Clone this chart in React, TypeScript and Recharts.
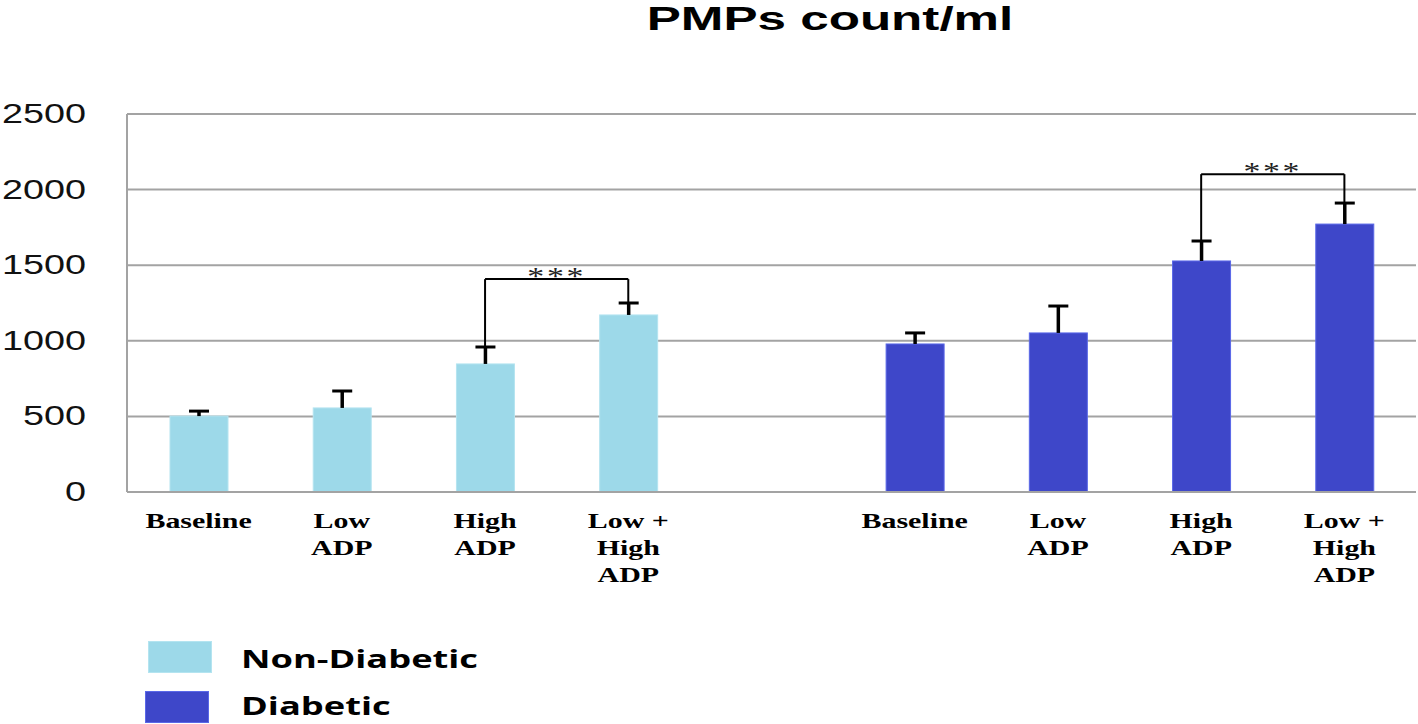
import { Bar, BarChart, CartesianGrid, Legend, ReferenceLine, XAxis, YAxis } from "recharts";

const categories = ["Baseline", "Low ADP", "High ADP", "Low + High ADP"];
const categoryLines: Record<string, string[]> = {
  "Baseline": ["Baseline"],
  "Low ADP": ["Low", "ADP"],
  "High ADP": ["High", "ADP"],
  "Low + High ADP": ["Low +", "High", "ADP"],
};
const nonDiabetic = [502, 556, 847, 1171];
const nonDiabeticErr = [33, 112, 112, 79];
const diabetic = [979, 1052, 1528, 1772];
const diabeticErr = [73, 178, 132, 139];
const yTicks = [0, 500, 1000, 1500, 2000, 2500];

const series = [
  { key: "nd", errKey: "ndErr", name: "Non-Diabetic", color: "#9dd9e9", border: "#b4e4f0" },
  { key: "d", errKey: "dErr", name: "Diabetic", color: "#3e47c9", border: "#5a68e8" },
];

// significance brackets: group, from/to index, bracket height
const brackets = [
  { group: "nd", from: 2, to: 3, y: 1408, label: "***" },
  { group: "d", from: 2, to: 3, y: 2102, label: "***" },
];

const data = [
  ...categories.map((c, i) => ({ key: `nd-${i}`, label: c, nd: nonDiabetic[i], ndErr: nonDiabeticErr[i] })),
  { key: "gap", label: "" },
  ...categories.map((c, i) => ({ key: `d-${i}`, label: c, d: diabetic[i], dErr: diabeticErr[i] })),
];

const STRETCH = 1.36;

function XTick({ x, y, payload }: any) {
  const row = data.find((r) => r.key === payload.value);
  const lines = row ? categoryLines[row.label] ?? [] : [];
  return (
    <g transform={`translate(${x},${y}) scale(${STRETCH},1)`}>
      <text textAnchor="middle" fontFamily="Liberation Serif" fontWeight="bold" fontSize={22} fill="#000">
        {lines.map((l, i) => (
          <tspan key={i} x={0} y={28 + i * 27}>{l}</tspan>
        ))}
      </text>
    </g>
  );
}

function YTick({ x, y, payload }: any) {
  return (
    <g transform={`translate(${x - 33},${y}) scale(1.4,1)`}>
      <text textAnchor="end" dy={9} fontFamily="Liberation Sans" fontSize={27} fill="#111">
        {payload.value}
      </text>
    </g>
  );
}

function makeShape(valKey: string, errKey: string, fill: string, border: string) {
  return (props: any) => {
    const { x, y, width, height, payload } = props;
    const val = payload[valKey];
    if (val == null || !height) return <g />;
    const cx = x + width / 2;
    const top = y - (payload[errKey] * height) / val;
    return (
      <g>
        <rect x={x} y={y} width={width} height={height} fill={fill} stroke={border} strokeWidth={1} />
        <line x1={cx} y1={y} x2={cx} y2={top} stroke="#000" strokeWidth={3.5} />
        <line x1={cx - 10} y1={top} x2={cx + 10} y2={top} stroke="#000" strokeWidth={3} />
      </g>
    );
  };
}

function StarLabel({ viewBox, value }: any) {
  const cx = viewBox.x + viewBox.width / 2;
  return (
    <g transform={`translate(${cx},${viewBox.y + 6}) scale(1.35,1)`}>
      <text textAnchor="middle" fontFamily="Liberation Serif" fontSize={25} fill="#222" letterSpacing={2}>
        {value}
      </text>
    </g>
  );
}

function LegendBox() {
  return (
    <div style={{ display: "flex", flexDirection: "column", gap: 18 }}>
      {series.map((s, i) => (
        <div key={s.key} style={{ display: "flex", alignItems: "center", height: 32, marginLeft: i === 0 ? 3 : 0 }}>
          <div style={{ width: 64, height: 32, background: s.color, border: `1px solid ${s.border}`, boxSizing: "border-box" }} />
          <span
            style={{
              marginLeft: i === 0 ? 29 : 32,
              fontFamily: "Open Sans",
              fontWeight: 700,
              fontSize: 25,
              lineHeight: "26px",
              color: "#000",
              display: "inline-block",
              transform: "scaleX(1.45)",
              transformOrigin: "left center",
              whiteSpace: "nowrap",
              position: "relative",
              top: i === 0 ? 1 : -2,
            }}
          >
            {s.name}
          </span>
        </div>
      ))}
    </div>
  );
}

export default function App() {
  return (
    <div style={{ position: "absolute", left: 0, top: 0, width: 1418, height: 724, background: "#fff", overflow: "hidden" }}>
      <div
        style={{
          position: "absolute",
          left: 830,
          top: 2,
          transform: "translateX(-50%) scaleX(1.55)",
          fontFamily: "Liberation Sans",
          fontWeight: 700,
          fontSize: 33,
          lineHeight: "33px",
          whiteSpace: "nowrap",
          color: "#000",
          zIndex: 2,
        }}
      >
        PMPs count/ml
      </div>
      <BarChart
        width={1418}
        height={724}
        data={data}
        margin={{ top: 114, right: 2, left: 0, bottom: 112 }}
        barSize={58}
      >
        <CartesianGrid vertical={false} stroke="#a3a3a3" strokeWidth={2} />
        <XAxis
          dataKey="key"
          height={120}
          interval={0}
          tickLine={false}
          axisLine={{ stroke: "#a3a3a3", strokeWidth: 2 }}
          tick={<XTick />}
        />
        <YAxis
          width={127}
          domain={[0, 2500]}
          ticks={yTicks}
          interval={0}
          tickLine={false}
          axisLine={{ stroke: "#a3a3a3", strokeWidth: 2 }}
          tick={<YTick />}
        />
        {series.map((s) => (
          <Bar
            key={s.key}
            dataKey={s.key}
            name={s.name}
            stackId="a"
            fill={s.color}
            isAnimationActive={false}
            shape={makeShape(s.key, s.errKey, s.color, s.border)}
          />
        ))}
        {brackets.map((b) => {
          const vals = b.group === "nd" ? nonDiabetic : diabetic;
          const errs = b.group === "nd" ? nonDiabeticErr : diabeticErr;
          const a = `${b.group}-${b.from}`;
          const z = `${b.group}-${b.to}`;
          return [
            <ReferenceLine
              key={`${b.group}-h`}
              segment={[{ x: a, y: b.y }, { x: z, y: b.y }]}
              stroke="#000"
              strokeWidth={2}
              ifOverflow="visible"
              label={<StarLabel value={b.label} />}
            />,
            <ReferenceLine
              key={`${b.group}-l`}
              segment={[{ x: a, y: b.y }, { x: a, y: vals[b.from] + errs[b.from] }]}
              stroke="#000"
              strokeWidth={2}
              ifOverflow="visible"
            />,
            <ReferenceLine
              key={`${b.group}-r`}
              segment={[{ x: z, y: b.y }, { x: z, y: vals[b.to] + errs[b.to] }]}
              stroke="#000"
              strokeWidth={2}
              ifOverflow="visible"
            />,
          ];
        })}
        <Legend
          layout="horizontal"
          verticalAlign="middle"
          align="center"
          content={<LegendBox />}
          wrapperStyle={{ left: 145, top: 641, width: 420, height: 82 }}
        />
      </BarChart>
    </div>
  );
}
